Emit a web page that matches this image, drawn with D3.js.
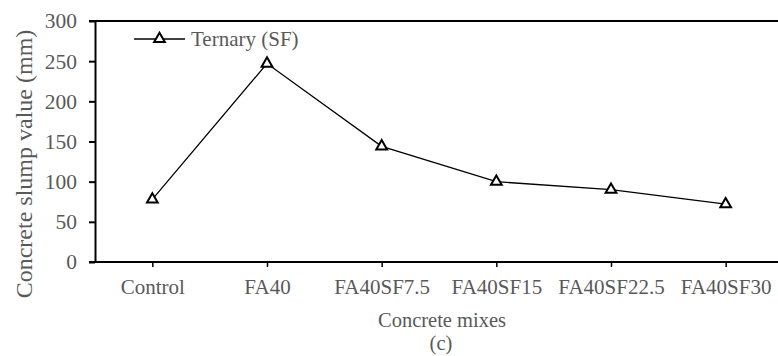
<!DOCTYPE html>
<html>
<head>
<meta charset="utf-8">
<script src="https://cdn.jsdelivr.net/npm/d3@7/dist/d3.min.js"></script>
<style>
  html, body { margin: 0; padding: 0; background: #fff; }
  svg { display: block; }
  text { font-family: "Liberation Serif", "Times New Roman", serif; fill: #595959; }
</style>
</head>
<body>
<svg id="chart" width="778" height="356"></svg>
<script>
// Slump test results for the ternary (silica fume) mixes
const mixes = ["Control", "FA40", "FA40SF7.5", "FA40SF15", "FA40SF22.5", "FA40SF30"];
const slump = [78, 247, 144, 100, 90, 72];
const yTicks = [0, 50, 100, 150, 200, 250, 300];
const seriesName = "Ternary (SF)";

const svg = d3.select("#chart");
const plotLeft = 95, plotTop = 21, plotBottom = 262, plotRight = 783;
const serif = "Liberation Serif, Times New Roman, serif";

const x = d3.scalePoint().domain(mixes).range([plotLeft, plotRight]).padding(0.5);
const y = d3.scaleLinear().domain([0, 300]).range([plotBottom, plotTop]);

// top frame line
svg.append("line")
  .attr("x1", plotLeft - 6).attr("x2", 778)
  .attr("y1", y(300)).attr("y2", y(300))
  .attr("stroke", "#000").attr("stroke-width", 2);

// y axis
const yAxis = svg.append("g")
  .attr("transform", `translate(${plotLeft},0)`)
  .call(d3.axisLeft(y).tickValues(yTicks).tickSize(6).tickPadding(12).tickSizeOuter(0));
yAxis.select(".domain").attr("stroke", "#000").attr("stroke-width", 2);
yAxis.selectAll(".tick line").attr("stroke", "#000").attr("stroke-width", 2);
yAxis.selectAll(".tick text")
  .attr("font-size", 21.5).attr("fill", "#595959")
  .style("font-family", serif);

// x axis
const xAxis = svg.append("g")
  .attr("transform", `translate(0,${plotBottom})`)
  .call(d3.axisBottom(x).tickSize(5).tickSizeOuter(0));
xAxis.select(".domain").attr("d", `M${plotLeft - 6},0H778`).attr("stroke", "#000").attr("stroke-width", 2);
xAxis.selectAll(".tick line").attr("stroke", "#000").attr("stroke-width", 1.5);
xAxis.selectAll(".tick text")
  .attr("y", 32).attr("dy", 0)
  .attr("font-size", 21).attr("fill", "#595959")
  .style("font-family", serif);

// series line
const line = d3.line().x((d, i) => x(mixes[i])).y(d => y(d));
svg.append("path")
  .datum(slump)
  .attr("d", line)
  .attr("fill", "none")
  .attr("stroke", "#000")
  .attr("stroke-width", 1.3);

// triangle markers
const tri = d3.symbol().type(d3.symbolTriangle).size(50);
svg.selectAll(".marker")
  .data(slump)
  .join("path")
  .attr("class", "marker")
  .attr("d", tri)
  .attr("transform", (d, i) => `translate(${x(mixes[i])},${y(d)})`)
  .attr("fill", "#fff")
  .attr("stroke", "#000")
  .attr("stroke-width", 2);

// legend
const lg = svg.append("g").attr("transform", "translate(134,39)");
lg.append("line").attr("x1", 0).attr("x2", 51).attr("y1", 0).attr("y2", 0)
  .attr("stroke", "#000").attr("stroke-width", 1.3);
lg.append("path").attr("d", tri).attr("transform", "translate(25.5,0)")
  .attr("fill", "#fff").attr("stroke", "#000").attr("stroke-width", 2);
lg.append("text").attr("x", 57).attr("y", 7).attr("font-size", 21).text(seriesName);

// axis titles
svg.append("text")
  .attr("transform", "translate(32,164) rotate(-90)")
  .attr("text-anchor", "middle")
  .attr("font-size", 24)
  .text("Concrete slump value (mm)");

svg.append("text")
  .attr("x", 442).attr("y", 327)
  .attr("text-anchor", "middle")
  .attr("font-size", 20.5)
  .text("Concrete mixes");

svg.append("text")
  .attr("x", 441).attr("y", 350)
  .attr("text-anchor", "middle")
  .attr("font-size", 20.5)
  .text("(c)");
</script>
</body>
</html>
